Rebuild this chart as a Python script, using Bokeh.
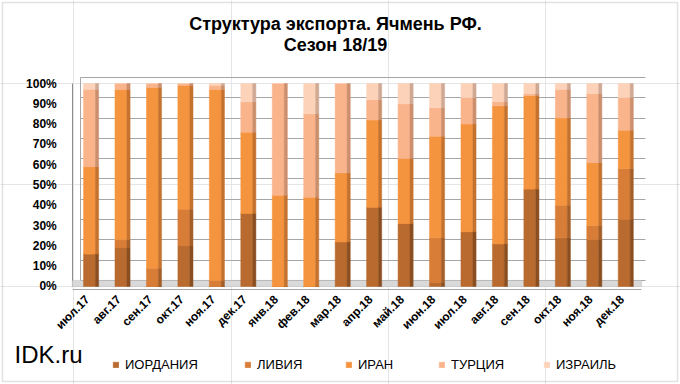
from math import pi
from bokeh.plotting import figure
from bokeh.models import (ColumnDataSource, Range1d, FixedTicker, Grid,
                          Legend, LegendItem, Label, BoxAnnotation)
from bokeh.core.properties import value
from bokeh.transform import dodge
from bokeh.embed import file_html
from bokeh.resources import INLINE

# ---------------- data ----------------
months = ["июл.17", "авг.17", "сен.17", "окт.17", "ноя.17", "дек.17",
          "янв.18", "фев.18", "мар.18", "апр.18", "май.18", "июн.18",
          "июл.18", "авг.18", "сен.18", "окт.18", "ноя.18", "дек.18"]
series_names = ["ИОРДАНИЯ", "ЛИВИЯ", "ИРАН", "ТУРЦИЯ", "ИЗРАИЛЬ"]
jordan = [16, 19, 0, 20, 0, 36, 0, 0, 22, 39, 31, 2, 27, 21, 48, 24, 23, 33]
libya  = [0, 4, 9, 18, 3, 0, 0, 0, 0, 0, 0, 22, 0, 0, 0, 16, 7, 25]
iran   = [43, 74, 89, 61, 94, 40, 45, 44, 34, 43, 32, 50, 53, 68, 46, 43, 31, 19]
turkey = [38, 3, 2, 1, 2, 15, 55, 41, 44, 10, 27, 14, 13, 2, 1, 14, 34, 16]
israel = [3, 0, 0, 0, 1, 9, 0, 15, 0, 8, 10, 12, 7, 9, 5, 3, 5, 7]
y_ticks = [0, 10, 20, 30, 40, 50, 60, 70, 80, 90, 100]
y_tick_labels = [f"{t}%" for t in y_ticks]
title_lines = ["Структура экспорта. Ячмень РФ.", "Сезон 18/19"]

keys = ["jordan", "libya", "iran", "turkey", "israel"]
x_pos = [i + 0.5 for i in range(len(months))]  # category slots
source = ColumnDataSource(data=dict(month=months, x=x_pos, jordan=jordan, libya=libya,
                                    iran=iran, turkey=turkey, israel=israel))

front_colors = ["#B96A2E", "#D77D37", "#F5943E", "#F9B48C", "#FCD2B9"]
side_colors = ["#8A4E20", "#A45E28", "#C4722E", "#CC8F6C", "#D0A994"]
FONT = "Liberation Sans"

# the frame covers the whole canvas; everything is placed through the scales
p = figure(width=680, height=384, x_range=Range1d(-2.33, 19.29),
           y_range=Range1d(-48.28, 140.89), x_axis_location=None, y_axis_location=None,
           output_backend="svg", toolbar_location=None, min_border=0)
p.outline_line_color = None
p.background_fill_color = "white"

# back wall gridlines (shifted up/right for the 3D look)
p.extra_y_ranges = {"wall": Range1d(-51.28, 137.89)}
p.add_layout(Grid(dimension=1, ticker=FixedTicker(ticks=y_ticks), y_range_name="wall",
                  cross_bounds=(0.21, 18.18), grid_line_color="#A6A6A6"))
# side wall edges
p.add_layout(Grid(dimension=0, ticker=FixedTicker(ticks=[0.21]), y_range_name="wall",
                  cross_bounds=(0, 100), grid_line_color="#A6A6A6"))
p.add_layout(Grid(dimension=0, ticker=FixedTicker(ticks=[-0.05]),
                  cross_bounds=(0, 100), grid_line_color="#8C8C8C"))
# floor
p.add_layout(BoxAnnotation(left=-0.05, right=18.05, bottom=0, top=3,
                           fill_color="#D9D9D9", fill_alpha=1,
                           line_color="#A6A6A6", line_width=1, level="underlay"))
# category axis line under the floor
p.add_layout(Grid(dimension=1, ticker=FixedTicker(ticks=[-1.5]),
                  cross_bounds=(-0.05, 18.05), grid_line_color="#A6A6A6"))

# bars: front faces and darker side faces
front = p.vbar_stack(keys, x="x", width=0.38, source=source,
                     color=front_colors, line_color=front_colors, line_width=0.5)
p.vbar_stack(keys, x=dodge("x", 0.24), width=0.1, source=source,
             color=side_colors, line_color=side_colors, line_width=0.5)

# y tick labels
p.text(x=0, y=y_ticks, text=y_tick_labels, x_offset=-17, text_align="right",
       text_baseline="middle", text_font=value(FONT), text_font_style="bold",
       text_font_size="12px", text_color="#000000")
# category labels
p.text(x="x", y=0, text="month", source=source, angle=pi / 4, x_offset=-2, y_offset=11,
       text_align="right", text_baseline="middle", text_font=value(FONT),
       text_font_style="bold", text_font_size="12px", text_color="#000000")

# outer chart border
p.add_layout(BoxAnnotation(left=2, right=677, top=382, bottom=3,
                           left_units="screen", right_units="screen",
                           top_units="screen", bottom_units="screen",
                           fill_alpha=0, line_color="#A0A0A0", line_width=1.5))

# title
for txt, yy in zip(title_lines, [361, 340]):
    p.add_layout(Label(x=335, y=yy, x_units="screen", y_units="screen", text=txt,
                       text_align="center", text_baseline="middle",
                       text_font=FONT, text_font_style="bold",
                       text_font_size="18px", text_color="#000000"))

# watermark
p.add_layout(Label(x=14, y=30, x_units="screen", y_units="screen", text="IDK.ru",
                   text_align="left", text_baseline="middle", text_font=FONT,
                   text_font_size="24px", text_color="#000000"))

# legend (one per item, placed along the bottom)
legend_x = [112, 244, 345, 438, 543]
for name, r, lx in zip(series_names, front, legend_x):
    leg = Legend(items=[LegendItem(label=name, renderers=[r])], location=(lx, 12),
                 orientation="horizontal", glyph_width=7, glyph_height=7,
                 label_standoff=6, padding=0, margin=0, spacing=0,
                 border_line_color=None, background_fill_alpha=0,
                 label_text_font=FONT, label_text_font_size="13px",
                 label_text_color="#000000")
    p.add_layout(leg)

open("out.html", "w").write(file_html(p, INLINE))
